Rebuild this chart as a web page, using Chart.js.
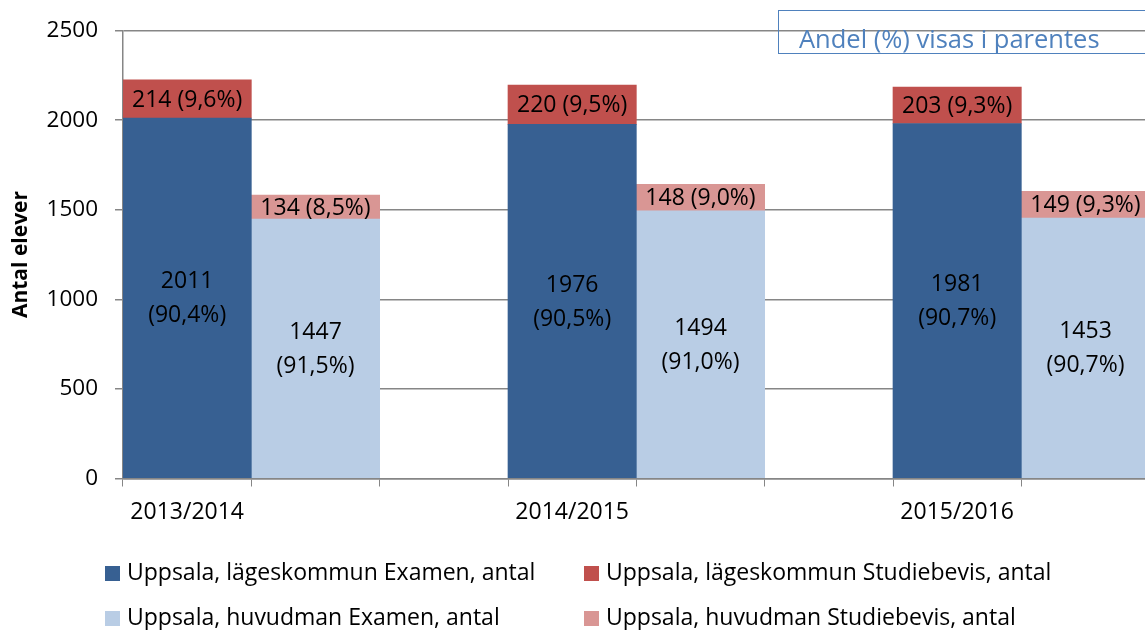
<!DOCTYPE html>
<html>
<head>
<meta charset="utf-8">
<script src="https://cdn.jsdelivr.net/npm/chart.js@4/dist/chart.umd.min.js"></script>
<style>
  html, body { margin: 0; padding: 0; background: #fff; overflow: hidden; }
  #wrap { position: relative; width: 1145px; height: 630px; overflow: hidden; }
  #chart { position: absolute; left: 0; top: 0; }
  .note {
    position: absolute; left: 778px; top: 10px; width: 420px; height: 44px;
    border: 1.5px solid #4F81BD; color: #4F81BD;
    font: 25.5px "Open Sans", sans-serif; line-height: 54px; padding-left: 20px; box-sizing: border-box;
  }
  .legend-item { position: absolute; font: 23px "Open Sans", sans-serif; color: #000; white-space: nowrap; line-height: 30px; }
  .legend-item span.box { display: inline-block; width: 15px; height: 15px; margin-right: 7px; vertical-align: -1px; }
</style>
</head>
<body>
<div id="wrap">
  <canvas id="chart" width="1290" height="630"></canvas>
  <div class="note">Andel (%) visas i parentes</div>
  <div id="legend"></div>
</div>
<script>
// Data
const categories = ['2013/2014', '2014/2015', '2015/2016']
const kommunExamen = [2011, 1976, 1981]
const kommunStudiebevis = [214, 220, 203]
const huvudmanExamen = [1447, 1494, 1453]
const huvudmanStudiebevis = [134, 148, 149]
const kommunExamenPct = ['90,4%', '90,5%', '90,7%']
const kommunStudiebevisPct = ['9,6%', '9,5%', '9,3%']
const huvudmanExamenPct = ['91,5%', '91,0%', '90,7%']
const huvudmanStudiebevisPct = ['8,5%', '9,0%', '9,3%']
const yTicks = [0, 500, 1000, 1500, 2000, 2500]

const FONT = '"Open Sans", sans-serif'

// each category gets three slots: kommun bar, huvudman bar, gap
const labels = []
categories.forEach((c) => labels.push(c, '', ''))

function slotData(values, slot) {
  const out = []
  values.forEach((v) => {
    for (let i = 0; i < 3; i++) out.push(i === slot ? v : null)
  })
  return out
}
function slotText(values, pcts, slot, twoLines) {
  const out = []
  values.forEach((v, i) => {
    for (let s = 0; s < 3; s++) {
      if (s !== slot) out.push(null)
      else out.push(twoLines ? [String(v), '(' + pcts[i] + ')'] : [v + ' (' + pcts[i] + ')'])
    }
  })
  return out
}

const datasets = [
  {
    label: 'Uppsala, lägeskommun Examen, antal',
    data: slotData(kommunExamen, 0),
    texts: slotText(kommunExamen, kommunExamenPct, 0, true),
    backgroundColor: '#376092'
  },
  {
    label: 'Uppsala, lägeskommun Studiebevis, antal',
    data: slotData(kommunStudiebevis, 0),
    texts: slotText(kommunStudiebevis, kommunStudiebevisPct, 0, false),
    backgroundColor: '#C0504D'
  },
  {
    label: 'Uppsala, huvudman Examen, antal',
    data: slotData(huvudmanExamen, 1),
    texts: slotText(huvudmanExamen, huvudmanExamenPct, 1, true),
    backgroundColor: '#B9CDE5'
  },
  {
    label: 'Uppsala, huvudman Studiebevis, antal',
    data: slotData(huvudmanStudiebevis, 1),
    texts: slotText(huvudmanStudiebevis, huvudmanStudiebevisPct, 1, false),
    backgroundColor: '#D99694'
  }
]

// Bar labels
const barLabels = {
  id: 'barLabels',
  afterDatasetsDraw(chart) {
    const ctx = chart.ctx
    ctx.save()
    ctx.font = '23px ' + FONT
    ctx.fillStyle = '#000'
    ctx.textAlign = 'center'
    ctx.textBaseline = 'middle'
    chart.data.datasets.forEach((ds, di) => {
      const meta = chart.getDatasetMeta(di)
      meta.data.forEach((bar, i) => {
        const lines = ds.texts[i]
        if (!lines) return
        const cy = (bar.y + bar.base) / 2 + 1
        const lh = 34
        lines.forEach((line, k) => {
          ctx.fillText(line, bar.x, cy + (k - (lines.length - 1) / 2) * lh)
        })
      })
    })
    ctx.restore()
  }
}

new Chart(document.getElementById('chart'), {
  type: 'bar',
  data: { labels: labels, datasets: datasets },
  plugins: [barLabels],
  options: {
    responsive: false,
    animation: false,
    layout: { padding: { top: 28.5, right: 12, bottom: 91.5, left: 0 } },
    plugins: { legend: { display: false }, tooltip: { enabled: false } },
    datasets: { bar: { barPercentage: 1, categoryPercentage: 1, borderWidth: 0 } },
    scales: {
      x: {
        stacked: true,
        offset: true,
        grid: { offset: true, drawOnChartArea: false, drawTicks: true, tickLength: 8, color: '#868686' },
        border: { color: '#868686', width: 1.5 },
        ticks: { color: '#000', font: { family: FONT, size: 23 }, padding: 12, maxRotation: 0, autoSkip: false },
        afterFit(scale) { scale.height = 60 }
      },
      y: {
        stacked: true,
        min: 0,
        max: 2500,
        afterBuildTicks(scale) { scale.ticks = yTicks.map((v) => ({ value: v })) },
        grid: { color: '#868686', lineWidth: 1.5, tickLength: 8 },
        border: { color: '#868686', width: 1.5 },
        ticks: {
          color: '#000',
          font: { family: FONT, size: 22.5 },
          padding: 17,
          callback: (v) => String(v)
        },
        title: {
          display: true,
          text: 'Antal elever',
          color: '#000',
          font: { family: FONT, size: 21, weight: 'bold' },
          padding: { top: 8, bottom: 0 }
        },
        afterFit(scale) { scale.width = 123 }
      }
    }
  }
})

// Legend (two columns, two rows)
const legendPos = [
  { left: 105, top: 556 },
  { left: 584, top: 556 },
  { left: 105, top: 601 },
  { left: 584, top: 601 }
]
const legendEl = document.getElementById('legend')
datasets.forEach((ds, k) => {
  const item = document.createElement('div')
  item.className = 'legend-item'
  item.style.left = legendPos[k].left + 'px'
  item.style.top = legendPos[k].top + 'px'
  item.innerHTML = '<span class="box" style="background:' + ds.backgroundColor + '"></span>' + ds.label
  legendEl.appendChild(item)
})
</script>
</body>
</html>
